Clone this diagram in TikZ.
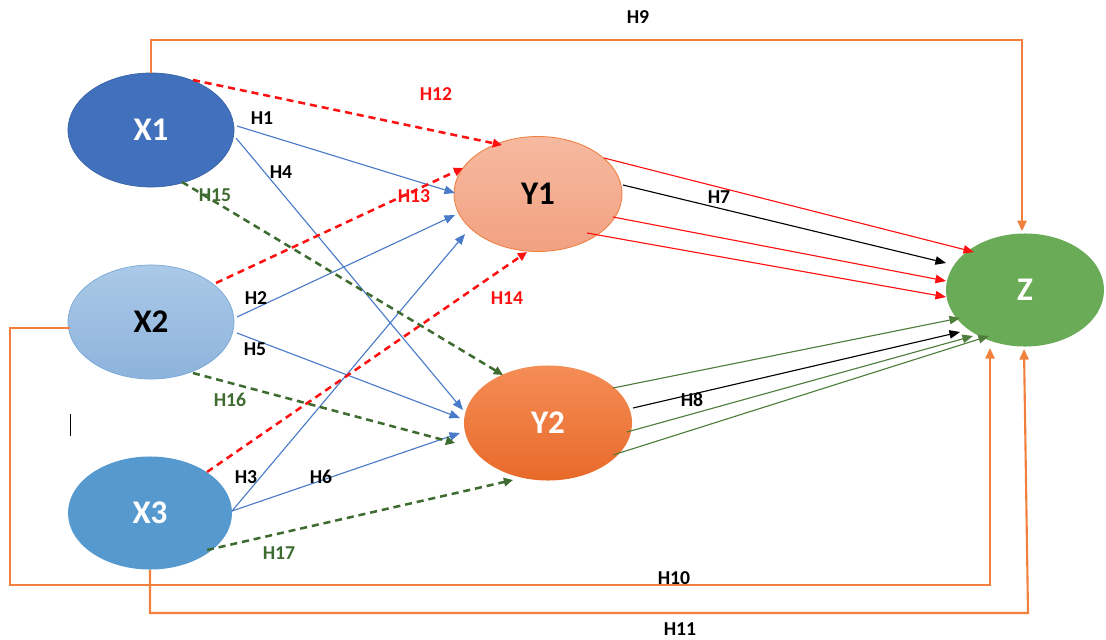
\documentclass[tikz,border=0pt]{standalone}
\usepackage{fontspec}
\setmainfont{Carlito}
\usetikzlibrary{arrows.meta,shapes.geometric,calc}
\definecolor{xonefill}{HTML}{4171BD}
\definecolor{xoneline}{HTML}{3A64A8}
\definecolor{xtwotop}{HTML}{ABC9E7}
\definecolor{xtwobot}{HTML}{8DB3DC}
\definecolor{xtwoline}{HTML}{78A8D8}
\definecolor{xthreefill}{HTML}{5699CE}
\definecolor{yonetop}{HTML}{F6B9A0}
\definecolor{yonebot}{HTML}{F2A182}
\definecolor{yoneline}{HTML}{EE8040}
\definecolor{ytwotop}{HTML}{F48D56}
\definecolor{ytwobot}{HTML}{E96A2A}
\definecolor{zfill}{HTML}{6AAB57}
\definecolor{pathblue}{HTML}{4A7BC8}
\definecolor{pathred}{HTML}{FF1010}
\definecolor{pathgreen}{HTML}{3E6B2F}
\definecolor{thingreen}{HTML}{4F7D3C}
\definecolor{pathorange}{HTML}{F0803C}
\begin{document}
\begin{tikzpicture}[x=0.025cm,y=-0.025cm,
  latent/.style={ellipse, inner sep=0pt, font=\fontsize{23.5}{25}\selectfont\bfseries},
  xsize/.style={minimum width=4.15cm, minimum height=2.85cm},
  ysize/.style={minimum width=4.2cm, minimum height=2.875cm},
  hyp/.style={font=\fontsize{14}{16}\selectfont\bfseries, inner sep=1pt},
  bluearr/.style={draw=pathblue, line width=0.8pt, -{Triangle[length=7.5pt,width=6pt]}},
  reddash/.style={draw=pathred, line width=1.8pt, dash pattern=on 5pt off 3.5pt, -{Triangle[length=6.5pt,width=6pt]}},
  greendash/.style={draw=pathgreen, line width=1.8pt, dash pattern=on 5pt off 3.5pt, -{Triangle[length=6.5pt,width=6pt]}},
  redarr/.style={draw=pathred, line width=0.8pt, -{Triangle[length=7.5pt,width=6pt]}},
  blackarr/.style={draw=black, line width=0.8pt, -{Triangle[length=7.5pt,width=6pt]}},
  greenarr/.style={draw=thingreen, line width=0.8pt, -{Triangle[length=7.5pt,width=6pt]}},
  orangearr/.style={draw=pathorange, line width=1.5pt, -{Triangle[length=7.5pt,width=6.5pt]}}
]
\useasboundingbox (0,0) rectangle (1106,639);

% latent variables
\node[latent, xsize, fill=xonefill, draw=xoneline, line width=0.5pt, text=white] (X1) at (151,130) {X1};
\node[latent, xsize, top color=xtwotop, bottom color=xtwobot, draw=xtwoline, line width=0.5pt, text=black] (X2) at (151,322) {X2};
\node[latent, minimum width=4.1cm, minimum height=2.825cm, fill=xthreefill, text=white] (X3) at (150,513) {X3};
\node[latent, ysize, top color=yonetop, bottom color=yonebot, draw=yoneline, line width=0.6pt, text=black] (Y1) at (538,194) {Y1};
\node[latent, ysize, top color=ytwotop, bottom color=ytwobot, text=white] (Y2) at (548,423) {Y2};
\node[latent, minimum width=3.95cm, minimum height=2.825cm, fill=zfill, text=white] (Z) at (1025,290) {Z};

% direct paths from the X variables
\draw[bluearr] ($(X1)+(86,-4)$) -- ($(Y1)+(-83,-1)$);
\draw[bluearr] ($(X1)+(85,8)$) -- ($(Y2)+(-85,-13)$);
\draw[bluearr] ($(X2)+(86,-5)$) -- ($(Y1)+(-83,21)$);
\draw[bluearr] ($(X2)+(86,11)$) -- ($(Y2)+(-88,-5)$);
\draw[bluearr] ($(X3)+(82,-2)$) -- ($(Y1)+(-73,40)$);
\draw[bluearr] ($(X3)+(82,-2)$) -- ($(Y2)+(-88,10)$);

% mediated paths
\draw[reddash] ($(X1)+(42,-50)$) -- ($(Y1)+(-36,-49)$);
\draw[reddash] ($(X2)+(65,-39)$) -- ($(Y1)+(-75,-26)$);
\draw[reddash] ($(X3)+(57,-41)$) -- ($(Y1)+(-11,58)$);
\draw[greendash] ($(X1)+(31,52)$) -- ($(Y2)+(-45,-48)$);
\draw[greendash] ($(X2)+(42,51)$) -- ($(Y2)+(-93,20)$);
\draw[greendash] ($(X3)+(57,37)$) -- ($(Y2)+(-35,57)$);

% paths from Y1 to Z
\draw[redarr] ($(Y1)+(66,-36)$) -- ($(Z)+(-51,-38)$);
\draw[blackarr] ($(Y1)+(85,-9)$) -- ($(Z)+(-79,-27)$);
\draw[redarr] ($(Y1)+(75,23)$) -- ($(Z)+(-79,-9)$);
\draw[redarr] ($(Y1)+(49,39)$) -- ($(Z)+(-79,7)$);

% paths from Y2 to Z
\draw[greenarr] ($(Y2)+(65,-35)$) -- ($(Z)+(-65,28)$);
\draw[blackarr] ($(Y2)+(85,-15)$) -- ($(Z)+(-65,42)$);
\draw[greenarr] ($(Y2)+(79,9)$) -- ($(Z)+(-52,46)$);
\draw[greenarr] ($(Y2)+(65,32)$) -- ($(Z)+(-36,46)$);

% direct paths from the X variables to Z
\coordinate (c9) at (1022,40);
\draw[orangearr] (X1.north) |- (c9) -- ($(Z.north)+(-3,-2)$);
\coordinate (c10a) at (10,585);
\coordinate (c10b) at (990,585);
\draw[orangearr] ($(X2.west)+(2,6)$) -| (c10a) -- (c10b) -- ($(Z)+(-35,58)$);
\coordinate (c11a) at (150,613);
\coordinate (c11b) at (1028,613);
\draw[orangearr] (X3.south) -- (c11a) -- (c11b) -- ($(Z)+(-1,59)$);

% hypothesis labels
\node[hyp] (lH1) at (262,118) {H1};
\node[hyp] (lH2) at (256,298) {H2};
\node[hyp] (lH3) at (246,477) {H3};
\node[hyp] (lH4) at (281,172) {H4};
\node[hyp] (lH5) at (255,349) {H5};
\node[hyp] (lH6) at (321,477) {H6};
\node[hyp] (lH7) at (719,197) {H7};
\node[hyp] (lH8) at (692,400) {H8};
\node[hyp] (lH9) at (638,17) {H9};
\node[hyp] (lH10) at (674,578) {H10};
\node[hyp] (lH11) at (680,629) {H11};
\node[hyp, text=pathred] (lH12) at (436,94) {H12};
\node[hyp, text=pathred] (lH13) at (414,196) {H13};
\node[hyp, text=pathred] (lH14) at (507,298) {H14};
\node[hyp, text=pathgreen] (lH15) at (215,195) {H15};
\node[hyp, text=pathgreen] (lH16) at (230,400) {H16};
\node[hyp, text=pathgreen] (lH17) at (279,553) {H17};

% text cursor mark
\draw[line width=0.6pt] (70,414) -- (70,436);
\end{tikzpicture}
\end{document}
